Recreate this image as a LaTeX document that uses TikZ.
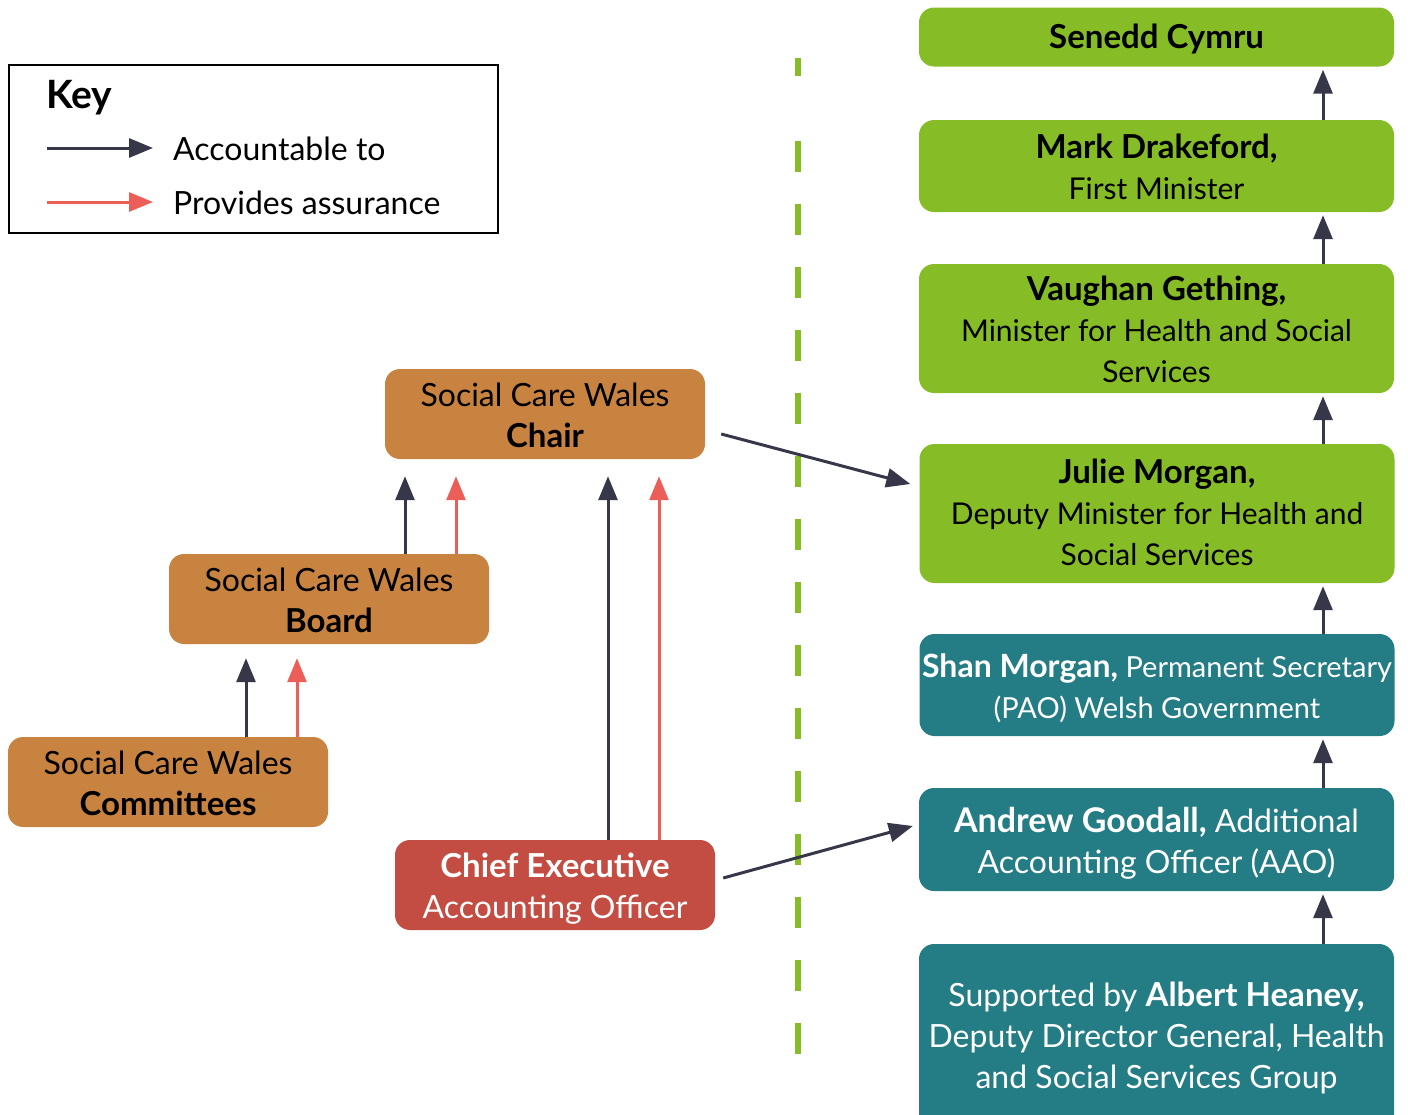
\documentclass[tikz,border=0pt]{standalone}
\usepackage{fontspec}
\setmainfont{Lato}
\usetikzlibrary{arrows.meta,calc}
\definecolor{cOrange}{HTML}{C98340}
\definecolor{cGreen}{HTML}{86BC25}
\definecolor{cTeal}{HTML}{247C84}
\definecolor{cRedBox}{HTML}{C44D43}
\definecolor{cDark}{HTML}{363849}
\definecolor{cRed}{HTML}{EC5F59}
\newcommand\tx[2][-5pt]{\raisebox{#1}[\height][\depth]{\begin{tabular}{@{}c@{}}#2\end{tabular}}}
\newcommand\bsz{33}
\newcommand\bb[1]{{\fontsize{\bsz}{41}\selectfont\bfseries #1}}
\tikzset{
  box/.style={rounded corners=15pt, inner sep=0pt},
  gbox/.style={box, fill=cGreen, text=black, minimum width=475pt,
    font=\renewcommand\bsz{33}\fontsize{30}{41}\selectfont},
  tbox/.style={box, fill=cTeal, text=white, minimum width=475pt,
    font=\renewcommand\bsz{33}\fontsize{32}{41}\selectfont},
  obox/.style={box, fill=cOrange, text=black, minimum width=320pt, minimum height=90pt,
    font=\renewcommand\bsz{33}\fontsize{32}{41}\selectfont},
  rbox/.style={box, fill=cRedBox, text=white, minimum width=320pt, minimum height=90pt,
    font=\renewcommand\bsz{33}\fontsize{32}{41}\selectfont},
  acc/.style={draw=cDark, line width=3pt, -{Triangle[length=24pt,width=19pt]}},
  asr/.style={draw=cRed, line width=3pt, -{Triangle[length=24pt,width=19pt]}},
  keylbl/.style={anchor=west, font=\fontsize{32}{38}\selectfont, inner sep=0pt},
}
\begin{document}
\begin{tikzpicture}[x=1pt,y=-1pt]
\useasboundingbox (0,0) rectangle (1408,1114);
\clip (0,0) rectangle (1408,1114);
% key
\node[draw=black, line width=2pt, minimum width=489pt, minimum height=168pt, inner sep=0pt] (keybox) at (253.5,149) {};
\node[anchor=west, font=\fontsize{39}{44}\selectfont\bfseries, inner sep=0pt] (keytitle) at (46,98) {Key};
\coordinate (k1a) at (47,148); \coordinate (k1b) at (153,148);
\coordinate (k2a) at (47,202); \coordinate (k2b) at (153,202);
\draw[acc] (k1a) -- (k1b);
\draw[asr] (k2a) -- (k2b);
\node[keylbl] (k1t) at (173,149) {Accountable to};
\node[keylbl] (k2t) at (173,203) {Provides assurance};
% dashed divider
\draw[cGreen, line width=6pt] (798,58) -- (798,76);
\draw[cGreen, line width=6pt, dash pattern=on 31pt off 32pt] (798,141) -- (798,1056);
% right column
\node[gbox, minimum height=59pt] (senedd) at (1156.5,37) {\tx[-3pt]{\bb{Senedd Cymru}}};
\node[gbox, minimum height=92pt] (mark) at (1156.5,166) {\tx{\bb{Mark Drakeford,}\\First Minister}};
\node[gbox, minimum height=129pt] (vaughan) at (1156.5,328.5) {\tx{\bb{Vaughan Gething,}\\Minister for Health and Social\\Services}};
\node[gbox, minimum height=139pt] (julie) at (1157,513.5) {\tx[-3pt]{\bb{Julie Morgan,}\\Deputy Minister for Health and\\Social Services}};
\node[tbox, minimum height=102pt, font=\renewcommand\bsz{32}\fontsize{29}{41}\selectfont] (shan) at (1157,685) {\tx{\bb{Shan Morgan,} Permanent Secretary\\(PAO) Welsh Government}};
\node[tbox, minimum height=103pt, font=\renewcommand\bsz{34}\fontsize{32}{41}\selectfont] (andrew) at (1156.5,839.5) {\tx{\bb{Andrew Goodall,} Additional\\Accounting Officer (AAO)}};
\node[tbox, minimum height=190pt] (albert) at (1156.5,1039) {\tx[0pt]{Supported by \bb{Albert Heaney,}\\Deputy Director General, Health\\and Social Services Group}};
\coordinate (ax) at (1323,0);
\draw[acc, shorten >=3pt] (mark.north -| ax) -- (senedd.south -| ax);
\draw[acc, shorten >=3pt] (vaughan.north -| ax) -- (mark.south -| ax);
\draw[acc, shorten >=3pt] (julie.north -| ax) -- (vaughan.south -| ax);
\draw[acc, shorten >=3pt] (shan.north -| ax) -- (julie.south -| ax);
\draw[acc, shorten >=3pt] (andrew.north -| ax) -- (shan.south -| ax);
\draw[acc, shorten >=3pt] (albert.north -| ax) -- (andrew.south -| ax);
% left side
\node[obox] (chair) at (545,414) {\tx{Social Care Wales\\\bb{Chair}}};
\node[obox] (board) at (329,599) {\tx{Social Care Wales\\\bb{Board}}};
\node[obox] (comm) at (168,782) {\tx{Social Care Wales\\\bb{Committees}}};
\node[rbox] (chief) at (555,885) {\tx{\bb{Chief Executive}\\Accounting Officer}};
\coordinate (c1) at (405,0); \coordinate (c2) at (456,0);
\coordinate (c3) at (608,0); \coordinate (c4) at (659,0);
\coordinate (b1) at (246,0); \coordinate (b2) at (297,0);
\draw[acc, shorten >=17pt] (board.north -| c1) -- (chair.south -| c1);
\draw[asr, shorten >=17pt] (board.north -| c2) -- (chair.south -| c2);
\draw[acc, shorten >=17pt] (chief.north -| c3) -- (chair.south -| c3);
\draw[asr, shorten >=17pt] (chief.north -| c4) -- (chair.south -| c4);
\draw[acc, shorten >=14pt] (comm.north -| b1) -- (board.south -| b1);
\draw[asr, shorten >=14pt] (comm.north -| b2) -- (board.south -| b2);
\draw[acc] ([shift={(16,20)}]chair.east) -- ([shift={(-9,-29.5)}]julie.west);
\draw[acc] ([shift={(8,-7)}]chief.east) -- ([shift={(-6,-13.5)}]andrew.west);
\end{tikzpicture}
\end{document}
